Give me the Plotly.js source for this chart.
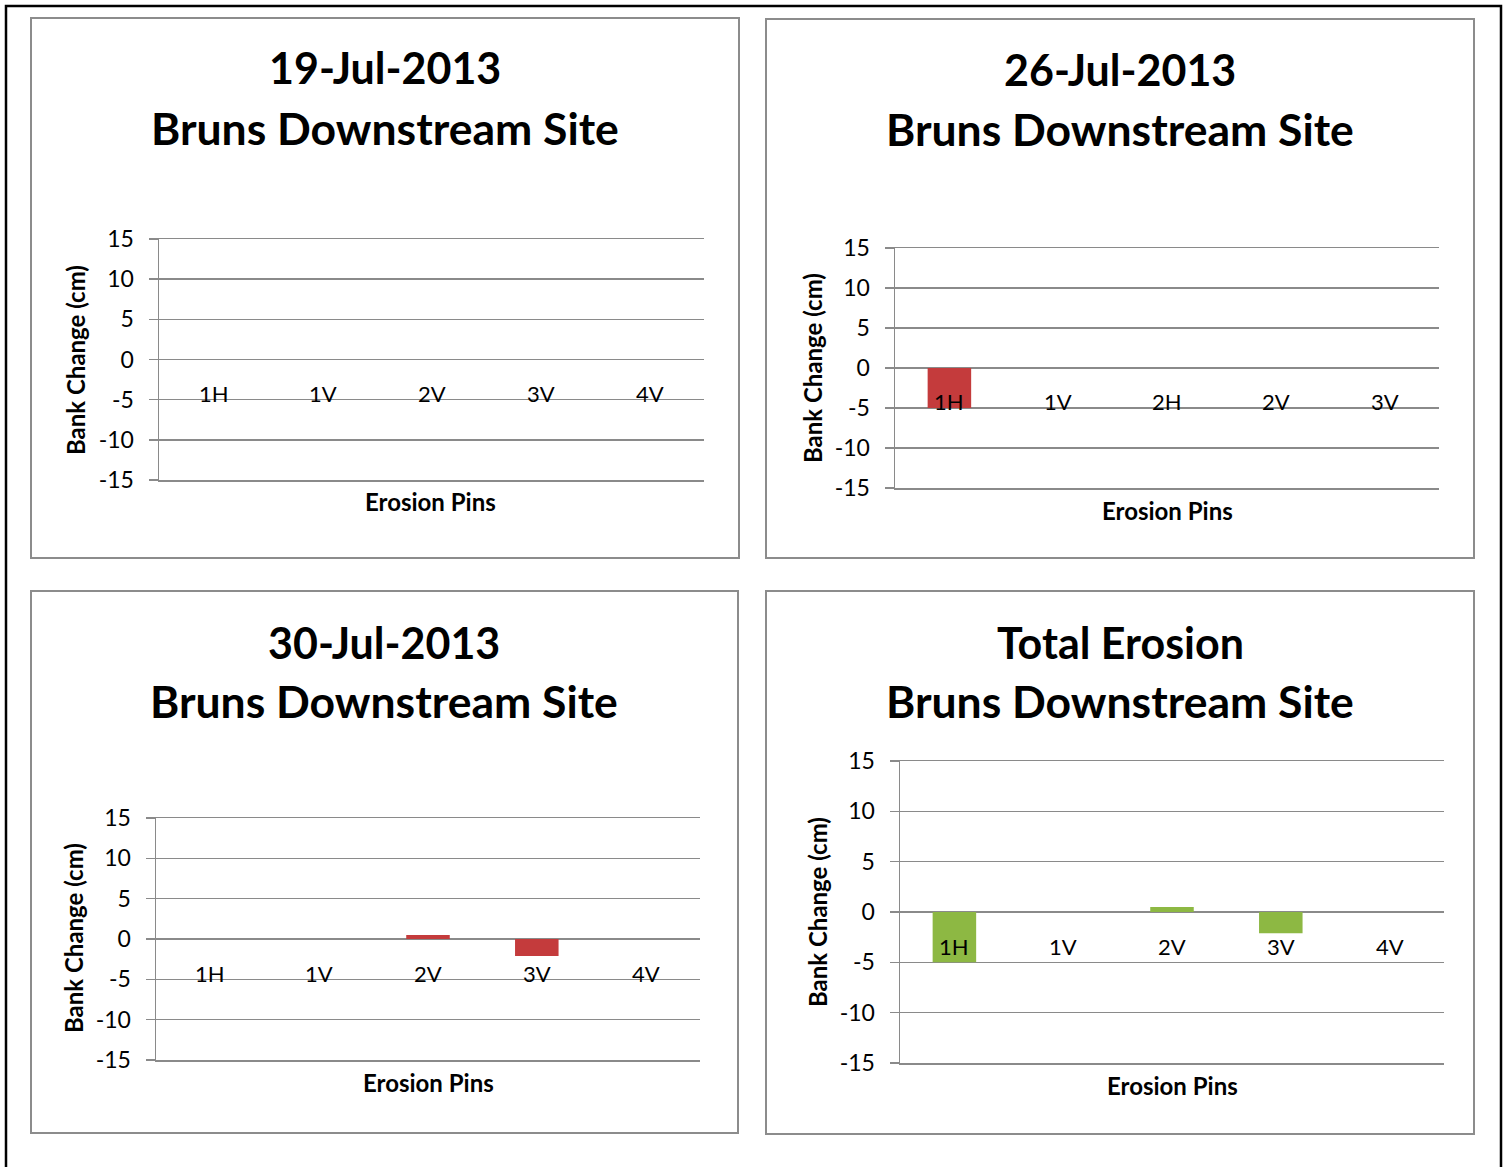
<!DOCTYPE html>
<html>
<head>
<meta charset="utf-8">
<script src="https://cdn.plot.ly/plotly-3.0.1.min.js"></script>
<style>html,body{margin:0;padding:0;background:#fff;}#chart{width:1507px;height:1167px;}</style>
</head>
<body>
<div id="chart"></div>
<script>
// ---- data ----
const cats1 = ['1H', '1V', '2V', '3V', '4V'];
const vals1 = [0, 0, 0, 0, 0];
const cats2 = ['1H', '1V', '2H', '2V', '3V'];
const vals2 = [-5, 0, 0, 0, 0];
const cats3 = ['1H', '1V', '2V', '3V', '4V'];
const vals3 = [0, 0, 0.5, -2.1, 0];
const cats4 = ['1H', '1V', '2V', '3V', '4V'];
const vals4 = [-5, 0, 0.5, -2.1, 0];
const titleLine1 = ['19-Jul-2013', '26-Jul-2013', '30-Jul-2013', 'Total Erosion'];
const titleLine2 = 'Bruns Downstream Site';
const yTitle = 'Bank Change (cm)';
const xTitle = 'Erosion Pins';
const yTickVals = [15, 10, 5, 0, -5, -10, -15];
const yTickText = ['15', '10', '5', '0', '-5', '-10', '-15'];

// ---- layout geometry (pixels) ----
const W = 1507, H = 1167;
const FONT = 'Lato, "Open Sans", sans-serif';
const px = x => x / W;
const py = y => 1 - y / H;
const GRID = '#8a8a8a';

const panels = [
  {cats: cats1, vals: vals1, color: '#C43B3C', box: [31, 18, 739, 558], plot: [159, 239, 704, 480],
   t1: [385, 68], t2: [385, 127], yt: [76, 360], xt: [431, 502]},
  {cats: cats2, vals: vals2, color: '#C43B3C', box: [766, 19, 1474, 558], plot: [895, 248, 1439, 488],
   t1: [1120, 70], t2: [1120, 128], yt: [812, 368], xt: [1167, 510]},
  {cats: cats3, vals: vals3, color: '#C43B3C', box: [31, 591, 738, 1133], plot: [156, 818, 700, 1060],
   t1: [384, 642], t2: [384, 700], yt: [73, 938], xt: [428, 1082]},
  {cats: cats4, vals: vals4, color: '#8DB843', box: [766, 591, 1474, 1134], plot: [900, 761, 1444, 1063],
   t1: [1120, 642], t2: [1120, 700], yt: [818, 912], xt: [1172, 1085]}
];

const traces = [];
const layout = {
  width: W, height: H,
  margin: {l: 0, r: 0, t: 0, b: 0},
  paper_bgcolor: '#fff', plot_bgcolor: 'rgba(0,0,0,0)',
  showlegend: false,
  font: {family: FONT, color: '#000'},
  shapes: [], annotations: []
};

// outer border
layout.shapes.push({type: 'rect', xref: 'paper', yref: 'paper',
  x0: px(6), x1: px(1501), y0: py(1180), y1: py(6),
  line: {color: '#000', width: 2.5}, layer: 'below'});

panels.forEach((p, i) => {
  const n = i + 1;
  const xa = 'xaxis' + (n === 1 ? '' : n), ya = 'yaxis' + (n === 1 ? '' : n);
  const xr = 'x' + (n === 1 ? '' : n), yr = 'y' + (n === 1 ? '' : n);
  traces.push({
    type: 'bar', x: p.cats, y: p.vals, xaxis: xr, yaxis: yr,
    width: 0.4, marker: {color: p.color, line: {width: 0}}, hoverinfo: 'x+y'
  });
  layout[xa] = {
    domain: [px(p.plot[0]), px(p.plot[2])], anchor: yr,
    type: 'category', categoryorder: 'array', categoryarray: p.cats,
    range: [-0.5, p.cats.length - 0.5],
    showticklabels: false, showgrid: false, zeroline: false,
    showline: true, mirror: true, linecolor: GRID, linewidth: 1.5, ticks: ''
  };
  layout[ya] = {
    domain: [py(p.plot[3]), py(p.plot[1])], anchor: xr,
    range: [-15, 15], tickmode: 'array', tickvals: yTickVals, ticktext: yTickText,
    showgrid: true, gridcolor: GRID, gridwidth: 1.5,
    zeroline: false, showline: true, linecolor: GRID, linewidth: 1.5,
    ticks: 'outside', ticklen: 9, tickcolor: GRID, tickwidth: 1.5,
    ticklabelstandoff: 10,
    tickfont: {family: FONT, size: 23, color: '#000'}
  };
  // panel box
  layout.shapes.push({type: 'rect', xref: 'paper', yref: 'paper',
    x0: px(p.box[0]), x1: px(p.box[2]), y0: py(p.box[3]), y1: py(p.box[1]),
    line: {color: '#8c8c8c', width: 2}, layer: 'below'});
  // titles
  layout.annotations.push({xref: 'paper', yref: 'paper', x: px(p.t1[0]), y: py(p.t1[1]),
    xanchor: 'center', yanchor: 'middle', showarrow: false, text: '<b>' + titleLine1[i] + '</b>',
    font: {family: FONT, size: 43, color: '#000'}});
  layout.annotations.push({xref: 'paper', yref: 'paper', x: px(p.t2[0]), y: py(p.t2[1]),
    xanchor: 'center', yanchor: 'middle', showarrow: false, text: '<b>' + titleLine2 + '</b>',
    font: {family: FONT, size: 44.5, color: '#000'}});
  layout.annotations.push({xref: 'paper', yref: 'paper', x: px(p.yt[0]), y: py(p.yt[1]),
    xanchor: 'center', yanchor: 'middle', showarrow: false, textangle: -90, text: '<b>' + yTitle + '</b>',
    font: {family: FONT, size: 24, color: '#000'}});
  layout.annotations.push({xref: 'paper', yref: 'paper', x: px(p.xt[0]), y: py(p.xt[1]),
    xanchor: 'center', yanchor: 'middle', showarrow: false, text: '<b>' + xTitle + '</b>',
    font: {family: FONT, size: 24, color: '#000'}});
  // category labels sitting below the zero line
  p.cats.forEach(c => {
    layout.annotations.push({xref: xr, yref: yr, x: c, y: 0, yshift: -34,
      xanchor: 'center', yanchor: 'middle', showarrow: false, text: c,
      font: {family: FONT, size: 22, color: '#000'}});
  });
});

Plotly.newPlot('chart', traces, layout, {staticPlot: true, displayModeBar: false});
</script>
</body>
</html>
